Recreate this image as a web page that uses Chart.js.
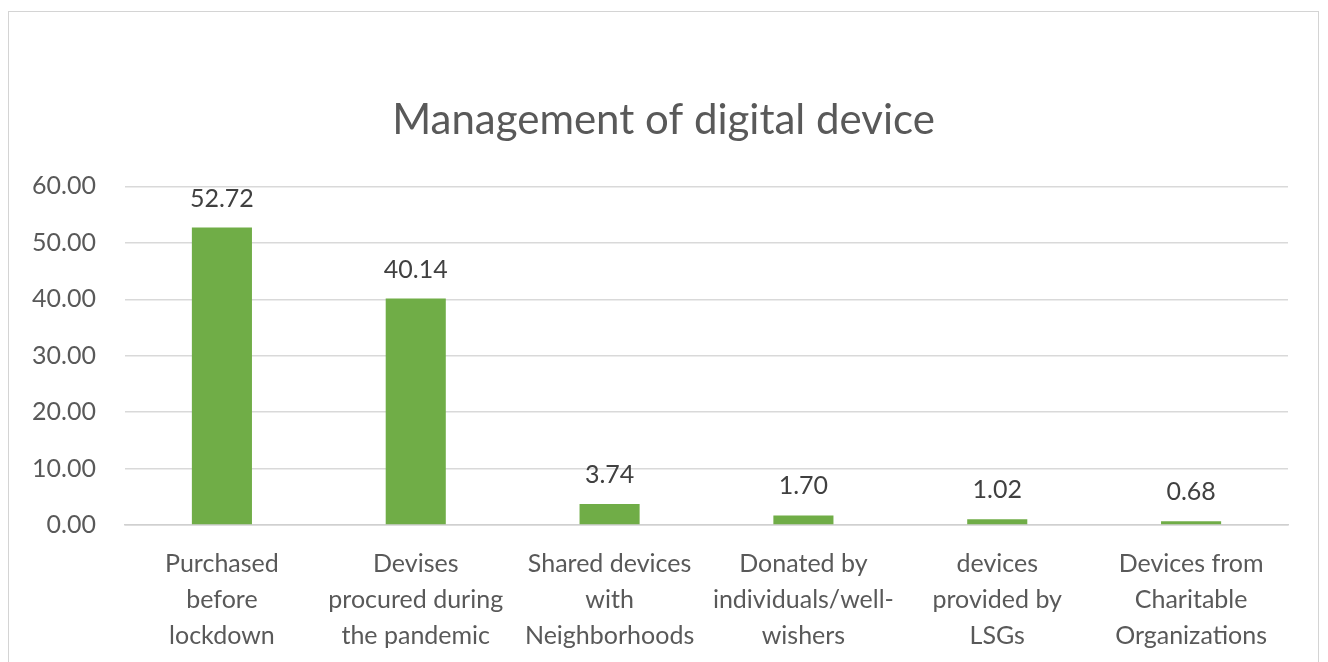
<!DOCTYPE html>
<html>
<head>
<meta charset="utf-8">
<script src="https://cdn.jsdelivr.net/npm/chart.js@4.4.1/dist/chart.umd.min.js"></script>
<style>
  html, body { margin: 0; padding: 0; background: #fff; overflow: hidden; }
  #frame {
    position: absolute; left: 8px; top: 11px;
    width: 1309px; height: 651px;
    border: 1px solid #d4d4d4; border-bottom: none;
    background: #fff;
  }
  #chart { display: block; }
</style>
</head>
<body>
<div id="frame"><canvas id="chart" width="1309" height="651"></canvas></div>
<script>
const categories = [
  ['Purchased', 'before', 'lockdown'],
  ['Devises', 'procured during', 'the pandemic'],
  ['Shared devices', 'with', 'Neighborhoods'],
  ['Donated by', 'individuals/well-', 'wishers'],
  ['devices', 'provided by', 'LSGs'],
  ['Devices from', 'Charitable', 'Organizations']
];
const shares = [52.72, 40.14, 3.74, 1.70, 1.02, 0.68];
const yTicks = [0, 10, 20, 30, 40, 50, 60];

const FONT = "Lato, 'Open Sans', sans-serif";
const GREEN = '#70ad47';
const GREY = '#595959';

// value labels above each bar
const barValues = {
  id: 'barValues',
  afterDatasetsDraw(chart) {
    const { ctx } = chart;
    const meta = chart.getDatasetMeta(0);
    ctx.save();
    ctx.font = `25px ${FONT}`;
    ctx.fillStyle = '#404040';
    ctx.textAlign = 'center';
    ctx.textBaseline = 'middle';
    meta.data.forEach((bar, i) => {
      ctx.fillText(shares[i].toFixed(2), bar.x, bar.y - 29);
    });
    ctx.restore();
  }
};

new Chart(document.getElementById('chart'), {
  type: 'bar',
  data: {
    labels: categories,
    datasets: [{
      data: shares,
      backgroundColor: GREEN,
      borderWidth: 0,
      categoryPercentage: 1,
      barPercentage: 0.31
    }]
  },
  options: {
    responsive: false,
    animation: false,
    plugins: {
      legend: { display: false },
      tooltip: { enabled: false },
      title: {
        display: true,
        text: 'Management of digital device',
        color: GREY,
        font: { family: FONT, size: 42, weight: 'normal' },
        padding: { top: 83, bottom: 41 }
      }
    },
    scales: {
      x: {
        grid: { display: false, drawTicks: false },
        border: { display: true, color: '#d0d0d0', width: 1.5 },
        ticks: {
          color: GREY,
          font: { family: FONT, size: 25, lineHeight: 1.44 },
          padding: 21,
          maxRotation: 0,
          autoSkip: false
        },
        afterFit(scale) { scale.height = 138; }
      },
      y: {
        min: 0,
        max: 60,
        afterBuildTicks(scale) { scale.ticks = yTicks.map(v => ({ value: v })); },
        grid: { color: '#d9d9d9', lineWidth: 1.5, drawTicks: false },
        border: { display: false },
        ticks: {
          color: GREY,
          font: { family: FONT, size: 25 },
          padding: 29,
          callback: v => v.toFixed(2)
        },
        afterFit(scale) { scale.width = 116; }
      },
      // empty strip on the right so the title stays centred on the frame
      yRight: {
        position: 'right',
        grid: { display: false, drawTicks: false },
        border: { display: false },
        ticks: { display: false },
        afterFit(scale) { scale.width = 30; }
      }
    }
  },
  plugins: [barValues]
});
</script>
</body>
</html>
